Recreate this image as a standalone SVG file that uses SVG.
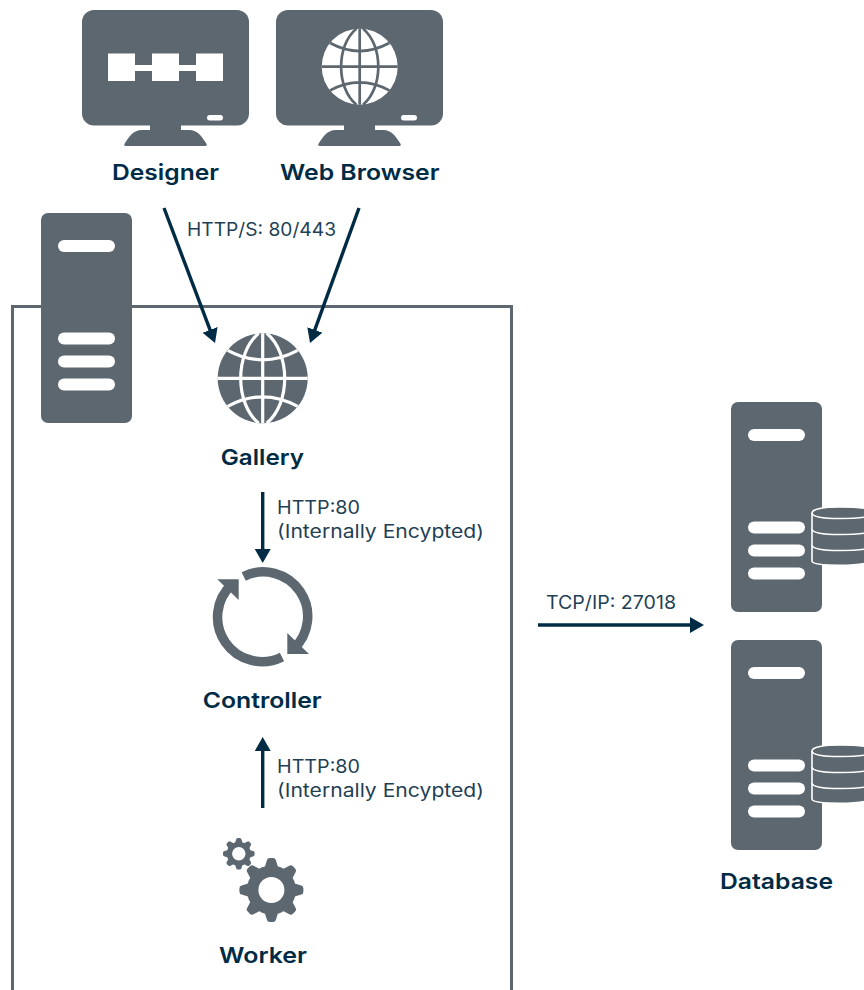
<svg xmlns="http://www.w3.org/2000/svg" xmlns:xlink="http://www.w3.org/1999/xlink" width="864" height="990" viewBox="0 0 864 990">
<style>
.g{fill:#5c6770}
.w{fill:#fff}
.t{font-family:"Inter","Open Sans","Liberation Sans",sans-serif;font-weight:600;font-size:22px;fill:#002b45}
.l{font-family:"Inter","Open Sans","Liberation Sans",sans-serif;font-weight:400;font-size:18.5px;fill:#1f3f55}
.c{stroke:#002b45;stroke-width:3.400;fill:none}
.b{stroke:#5c6770;stroke-width:3;fill:none}
.gl{fill:none;stroke-width:3.200}
</style>
<defs>
<marker id="ah" markerUnits="userSpaceOnUse" markerWidth="18" markerHeight="18" refX="8" refY="8" orient="auto"><path d="M0,0L14,8L0,16Z" fill="#002b45"/></marker>
<g id="mon"><rect class="g" x="0" y="0" width="167" height="115.500" rx="12"/><rect class="g" x="68" y="115" width="31" height="7"/><path class="g" d="M43,133C47,127 51,120 60,120H107C116,120 120,127 124,133Q126,136 123,136H44Q41,136 43,133Z"/><rect class="w" x="125" y="105" width="16" height="5.500" rx="2.700"/></g>
<g id="srv"><rect class="g" x="0" y="0" width="91" height="210" rx="7"/><rect class="w" x="17" y="27" width="57" height="12" rx="6"/><rect class="w" x="17" y="119.500" width="57" height="12" rx="6"/><rect class="w" x="17" y="142.500" width="57" height="12" rx="6"/><rect class="w" x="17" y="165.500" width="57" height="12" rx="6"/></g>
<g id="db"><path class="g" stroke="#fff" stroke-width="1.600" d="M812,513C812,509 824,507 840,507C852,507 860,507.500 866,508.500V563C860,564.500 852,565.200 840,565.200C824,565.200 812,564 812,561Z"/><path fill="none" stroke="#fff" stroke-width="1.600" d="M812,513C812,517 824,518.500 840,518.500C852,518.500 860,518 866,517M812,529C812,533 824,534.500 840,534.500C852,534.500 860,534 866,533M812,545C812,549 824,550.500 840,550.500C852,550.500 860,550 866,549"/></g>
<path id="glb" d="M0,-45V45M-45,0H45M-35,-28Q0,-9 35,-28M-35,28Q0,9 35,28M-4,-45C-28,-25 -28,25 -4,45M4,-45C28,-25 28,25 4,45"/>
<path id="tb" class="g" d="M-4.500,-29.800Q-4,-32 -1.500,-32H1.500Q4,-32 4.500,-29.800L7.500,-20H-7.500Z"/>
<path id="ts" class="g" d="M-2.700,-14.200Q-2.400,-15.800 -1,-15.800H1Q2.400,-15.800 2.700,-14.200L4.200,-9H-4.200Z"/>
</defs>

<g id="connectors">
<path class="b" d="M12.500,990V306.500H511.500V990"/>
<path class="c" marker-end="url(#ah)" d="M164,208L212.900,337.400"/>
<path class="c" marker-end="url(#ah)" d="M359,208L312.100,337.400"/>
<path class="c" marker-end="url(#ah)" d="M262.700,492V557"/>
<path class="c" marker-end="url(#ah)" d="M262.700,808V743"/>
<path class="c" marker-end="url(#ah)" d="M538,625H698"/>
<text class="l" x="187" y="236" textLength="149" lengthAdjust="spacingAndGlyphs">HTTP/S: 80/443</text>
<text class="l" x="277" y="514" textLength="83" lengthAdjust="spacingAndGlyphs">HTTP:80</text>
<text class="l" x="277" y="538" textLength="207" lengthAdjust="spacingAndGlyphs">(Internally Encypted)</text>
<text class="l" x="277" y="773" textLength="83" lengthAdjust="spacingAndGlyphs">HTTP:80</text>
<text class="l" x="277" y="796.500" textLength="207" lengthAdjust="spacingAndGlyphs">(Internally Encypted)</text>
<text class="l" x="546" y="608.500" textLength="130" lengthAdjust="spacingAndGlyphs">TCP/IP: 27018</text>
</g>

<g id="designer">
<use xlink:href="#mon" href="#mon" x="82" y="10"/>
<rect class="w" x="108" y="53.500" width="27" height="27.500"/><rect class="w" x="152" y="53.500" width="27" height="27.500"/><rect class="w" x="196" y="53.500" width="27" height="27.500"/>
<rect class="w" x="135" y="65" width="61" height="6"/>
<text class="t" x="112" y="180" textLength="107" lengthAdjust="spacingAndGlyphs">Designer</text>
</g>

<g id="web-browser">
<use xlink:href="#mon" href="#mon" x="276" y="10"/>
<circle class="w" cx="359.700" cy="66.700" r="38"/>
<use xlink:href="#glb" href="#glb" class="gl" stroke="#5c6770" transform="translate(359.700 66.700) scale(.845)"/>
<text class="t" x="280" y="180" textLength="159.500" lengthAdjust="spacingAndGlyphs">Web Browser</text>
</g>

<g id="server"><use xlink:href="#srv" href="#srv" x="41" y="213"/></g>

<g id="gallery">
<circle class="g" cx="262.700" cy="378.300" r="45"/>
<use xlink:href="#glb" href="#glb" class="gl" stroke="#fff" transform="translate(262.700 378.300)"/>
<text class="t" x="220.700" y="465" textLength="83.300" lengthAdjust="spacingAndGlyphs">Gallery</text>
</g>

<g id="controller">
<path fill="none" stroke="#5c6770" stroke-width="9.500" d="M243.700,576.400A44.500,44.500 0 0 1 293.500,649M282,656.900A44.500,44.500 0 0 1 232,584.300"/>
<path class="g" d="M287.300,633V654H309Z"/>
<path class="g" d="M217.300,579.300H238.700V600Z"/>
<text class="t" x="202.700" y="708" textLength="119" lengthAdjust="spacingAndGlyphs">Controller</text>
</g>

<g id="worker">
<g transform="translate(271.400 890)">
<circle class="g" r="24.500"/>
<use xlink:href="#tb" href="#tb"/><use xlink:href="#tb" href="#tb" transform="rotate(45)"/><use xlink:href="#tb" href="#tb" transform="rotate(90)"/><use xlink:href="#tb" href="#tb" transform="rotate(135)"/><use xlink:href="#tb" href="#tb" transform="rotate(180)"/><use xlink:href="#tb" href="#tb" transform="rotate(225)"/><use xlink:href="#tb" href="#tb" transform="rotate(270)"/><use xlink:href="#tb" href="#tb" transform="rotate(315)"/>
<circle class="w" r="13"/>
</g>
<g transform="translate(238.800 853.700)">
<circle class="g" r="12"/>
<use xlink:href="#ts" href="#ts"/><use xlink:href="#ts" href="#ts" transform="rotate(45)"/><use xlink:href="#ts" href="#ts" transform="rotate(90)"/><use xlink:href="#ts" href="#ts" transform="rotate(135)"/><use xlink:href="#ts" href="#ts" transform="rotate(180)"/><use xlink:href="#ts" href="#ts" transform="rotate(225)"/><use xlink:href="#ts" href="#ts" transform="rotate(270)"/><use xlink:href="#ts" href="#ts" transform="rotate(315)"/>
<circle class="w" r="6.700"/>
</g>
<text class="t" x="219" y="963" textLength="88" lengthAdjust="spacingAndGlyphs">Worker</text>
</g>

<g id="database">
<use xlink:href="#srv" href="#srv" x="731" y="402"/>
<use xlink:href="#db" href="#db"/>
<use xlink:href="#srv" href="#srv" x="731" y="640"/>
<use xlink:href="#db" href="#db" y="238"/>
<text class="t" x="720" y="889" textLength="113" lengthAdjust="spacingAndGlyphs">Database</text>
</g>
</svg>
